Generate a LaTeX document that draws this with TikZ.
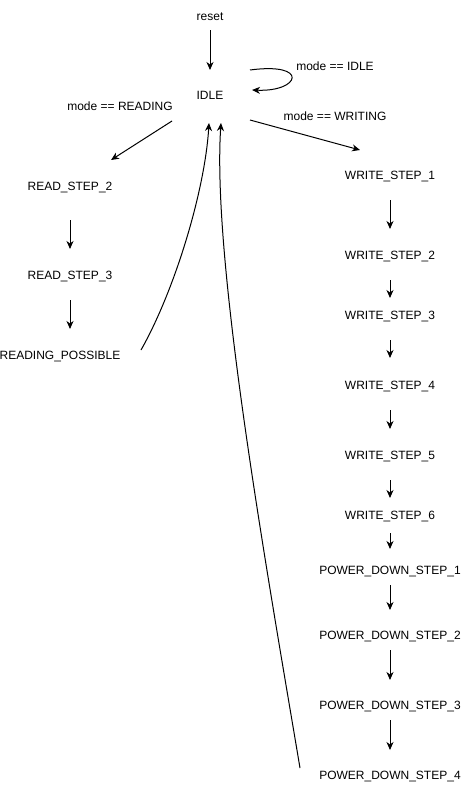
\documentclass[tikz,border=0pt]{standalone}
\usepackage{fontspec}
\setmainfont{Liberation Sans}
\usetikzlibrary{arrows.meta,calc}
\begin{document}
\begin{tikzpicture}[x=1pt,y=-1pt,
  lbl/.style={inner sep=0pt,text height=8.6pt,text depth=0pt,font=\fontsize{12pt}{14pt}\selectfont},
  arr/.style={line width=1pt,-{Stealth[length=8pt,width=7pt,inset=2.5pt]}}]
\useasboundingbox[fill=white] (0,0) rectangle (461,790);
% nodes
\node[lbl] (reset) at (210,16) {reset};
\node[lbl] (idle) at (210,95) {IDLE};
\node[lbl] (lidle) at (335,66) {mode == IDLE};
\node[lbl] (lread) at (120,106) {mode == READING};
\node[lbl] (lwrite) at (335,116) {mode == WRITING};
\node[lbl] (rs2) at (70,186) {READ\_STEP\_2};
\node[lbl] (rs3) at (70,275) {READ\_STEP\_3};
\node[lbl] (rp) at (60,355) {READING\_POSSIBLE};
\node[lbl] (ws1) at (390,175) {WRITE\_STEP\_1};
\node[lbl] (ws2) at (390,255) {WRITE\_STEP\_2};
\node[lbl] (ws3) at (390,315) {WRITE\_STEP\_3};
\node[lbl] (ws4) at (390,385) {WRITE\_STEP\_4};
\node[lbl] (ws5) at (390,455) {WRITE\_STEP\_5};
\node[lbl] (ws6) at (390,515) {WRITE\_STEP\_6};
\node[lbl] (pd1) at (390,570) {POWER\_DOWN\_STEP\_1};
\node[lbl] (pd2) at (390,635) {POWER\_DOWN\_STEP\_2};
\node[lbl] (pd3) at (390,705) {POWER\_DOWN\_STEP\_3};
\node[lbl] (pd4) at (390,775) {POWER\_DOWN\_STEP\_4};
% vertical arrows
\draw[arr,shorten <=14pt,shorten >=25pt] (reset.center) -- (idle.center);
\draw[arr,shorten <=34pt,shorten >=26pt] (rs2.center) -- (rs3.center);
\draw[arr,shorten <=25pt,shorten >=26pt] (rs3.center) -- (rs3.center |- rp.center);
\draw[arr,shorten <=25pt,shorten >=26pt] (ws1.center) -- (ws2.center);
\draw[arr,shorten <=25pt,shorten >=17pt] (ws2.center) -- (ws3.center);
\draw[arr,shorten <=25pt,shorten >=27pt] (ws3.center) -- (ws4.center);
\draw[arr,shorten <=25pt,shorten >=26pt] (ws4.center) -- (ws5.center);
\draw[arr,shorten <=25pt,shorten >=17pt] (ws5.center) -- (ws6.center);
\draw[arr,shorten <=18pt,shorten >=21pt] (ws6.center) -- (pd1.center);
\draw[arr,shorten <=15pt,shorten >=25pt] (pd1.center) -- (pd2.center);
\draw[arr,shorten <=15pt,shorten >=25pt] (pd2.center) -- (pd3.center);
\draw[arr,shorten <=15pt,shorten >=25pt] (pd3.center) -- (pd4.center);
% diagonal arrows
\draw[arr] ($(idle.center)+(-38,26)$) -- ($(rs2.center)+(41,-26)$);
\draw[arr] ($(idle.center)+(40,25)$) -- ($(ws1.center)+(-30,-25)$);
% self loop
\draw[arr] ($(idle.center)+(40,-25)$) .. controls ($(idle.center)+(100,-33)$) and ($(idle.center)+(90,-3)$) .. ($(idle.center)+(42,-5)$);
% return arrows
\draw[arr] ($(rp.center)+(81,-5)$) .. controls (175,290) and (205,190) .. ($(idle.center)+(-1,28)$);
\draw[arr] ($(pd4.center)+(-90,-7)$) .. controls (265,560) and (212,260) .. ($(idle.center)+(11,28)$);
\end{tikzpicture}
\end{document}
